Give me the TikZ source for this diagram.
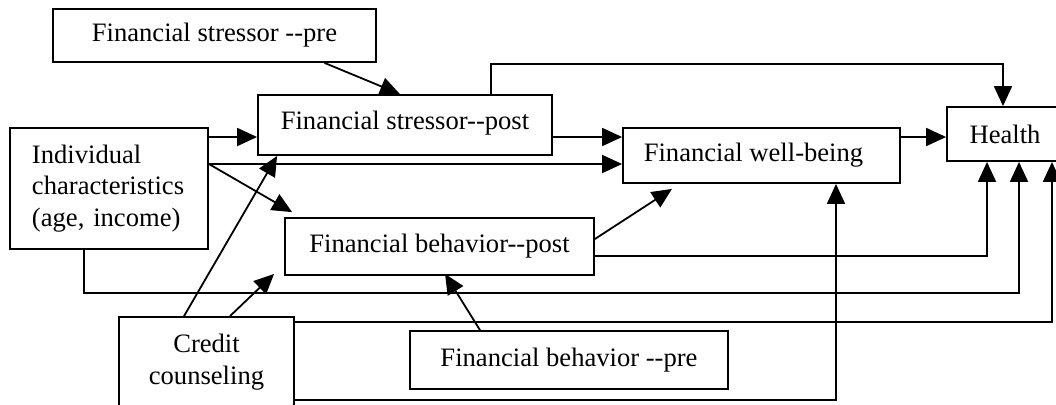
\documentclass[tikz,border=0pt]{standalone}
\usepackage{fontspec}
\setmainfont{Liberation Serif}[Ligatures=TeXOff]
\usetikzlibrary{
	arrows.meta,   %箭头
	positioning    %定位
}
\tikzset{
	every picture/.style={
		>={Triangle[length=10pt,width=9pt]}
	},
	box/.style={draw,rectangle,line width=0.9pt,inner sep=0pt,
		font=\fontsize{13.3}{15.8}\selectfont,align=center},
	arr/.style={->,line width=0.9pt}
}

\begin{document}
\begin{tikzpicture}[x=0.5pt,y=-0.5pt]
\clip (0,0) rectangle (1056,404);
% boxes
\node[box,minimum width=161.5pt,minimum height=26.5pt] (spre) at (214.5,35.5) {Financial stressor --pre};
\node[box,minimum width=147pt,minimum height=30pt,text depth=5pt] (spost) at (405,125) {Financial stressor--post};
\node[box,text width=77pt,inner xsep=11pt,align=left,minimum height=60.5pt] (indiv) at (109,188.5) {Individual\\characteristics\\(age, income)};
\node[box,minimum width=138.5pt,minimum height=27.5pt] (wb) at (761.5,155.5) {Financial well-being\hspace*{8pt}};
\node[box,minimum width=58pt,minimum height=27pt] (health) at (1005,134) {Health};
\node[box,minimum width=154.5pt,minimum height=28.5pt] (bpost) at (439.5,246.5) {Financial behavior--post};
\node[box,minimum width=87.5pt,minimum height=45pt] (credit) at (206.5,362) {Credit\\counseling};
\node[box,minimum width=159pt,minimum height=29pt] (bpre) at (569,360) {Financial behavior --pre};

% paths
\draw[arr] ([xshift=55pt]spre.south) -- ([xshift=-2.5pt]spost.north);
\draw[arr] ([xshift=43pt]spost.north) -- ++(0,15pt) -| ([xshift=-1pt]health.north);
\draw[arr] ([yshift=-6pt]spost.west -| indiv.east) -- ([yshift=-6pt]spost.west);
\draw[arr] ([yshift=-4.25pt]wb.west -| indiv.east) -- ([yshift=-4.25pt]wb.west);
\draw[arr] ([yshift=-6pt]spost.east) -- ([yshift=-6pt]spost.east -| wb.west);
\draw[arr] ([yshift=-1.5pt]health.west -| wb.east) -- ([yshift=-1.5pt]health.west);
\draw[arr] ([yshift=-4.25pt]wb.west -| indiv.east) -- ([xshift=4pt,yshift=2.5pt]bpost.north west);
\draw[arr] ([xshift=-11.25pt]credit.north) -- ([xshift=10pt]spost.south west);
\draw[arr] ([xshift=11.75pt]credit.north) -- ([xshift=-5pt,yshift=1pt]bpost.south west);
\draw[arr] ([xshift=-12.5pt]indiv.south) -- ++(0,-21.5pt) -| ([xshift=7pt]health.south);
\draw[arr] ([yshift=-4.75pt]bpost.east) -| ([xshift=-9pt]health.south);
\draw[arr] ([yshift=3.75pt]bpost.east) -- ([xshift=-44.75pt,yshift=-2.5pt]wb.south);
\draw[arr] ([yshift=-3pt]credit.north east) -| ([xshift=23.5pt]health.south);
\draw[arr] ([yshift=-19pt]credit.east) -| ([xshift=37.25pt]wb.south);
\draw[arr] ([xshift=-44.5pt]bpre.north) -- ([xshift=2.75pt,yshift=1pt]bpost.south);
\end{tikzpicture}
\end{document}
